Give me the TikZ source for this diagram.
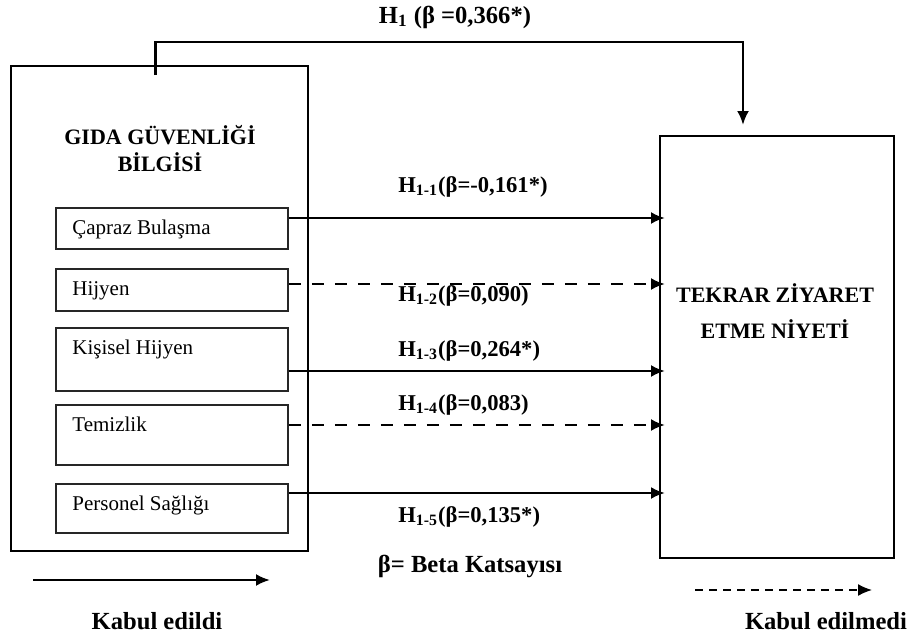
\documentclass[tikz,border=0pt]{standalone}
\usepackage{fontspec}
\setmainfont{Liberation Serif}
\usetikzlibrary{arrows.meta,positioning,calc}
\tikzset{
  outerbox/.style={rectangle,draw=black,line width=0.75pt,inner sep=0pt,anchor=north west},
  itembox/.style={rectangle,draw=black!85,line width=0.9pt,inner sep=0pt,
    minimum width=116pt,anchor=north west},
  itemtext/.style={anchor=base west,inner sep=0pt,font=\fontsize{10.5}{12}\selectfont},
  titletext/.style={align=center,inner sep=0pt,font=\fontsize{11}{13.5}\selectfont\bfseries},
  hlabel/.style={anchor=west,inner sep=0pt,font=\fontsize{11.3}{13}\selectfont\bfseries},
  notetext/.style={anchor=center,inner sep=0pt,font=\fontsize{12.3}{14}\selectfont\bfseries},
  accarrow/.style={-{Latex[length=7pt,width=6pt]},line width=1.3pt},
  rejarrow/.style={accarrow,dash pattern=on 6pt off 5.5pt}
}
\begin{document}
\begin{tikzpicture}[x=0.5pt,y=-0.5pt]
  \path[use as bounding box,fill=white] (0,0) rectangle (916,637);
  \node[outerbox,minimum width=148.5pt,minimum height=242.5pt] (gkb) at (10,65) {};
  \node[outerbox,minimum width=117pt,minimum height=211pt] (tzn) at (659,135) {};
  \node[titletext] (gkbt) at (160,149) {GIDA GÜVENLİĞİ\\BİLGİSİ};
  \node[titletext,font=\fontsize{11}{18}\selectfont\bfseries] (tznt) at (775,311) {TEKRAR ZİYARET\\ETME NİYETİ};
  \foreach \n/\y/\h/\t in {cb/207/20.5/Çapraz Bulaşma,hj/268/21/Hijyen,kh/327/31.5/Kişisel Hijyen,
      tm/404/30/Temizlik,ps/483/24.5/Personel Sağlığı} {
    \node[itembox,minimum height=\h pt] (\n) at (55,\y) {};
    \node[itemtext] (\n t) at ([xshift=8.5pt,yshift=-13.5pt]\n.north west) {\t};
  }
  \foreach \n/\y/\s in {cb/218/accarrow,hj/284/rejarrow,kh/371/accarrow,tm/425/rejarrow,ps/493/accarrow}
    \draw[\s,shorten >=-3pt] (\n.east |- 0,\y) -- (tzn.west |- 0,\y);
  \draw[accarrow] ($(gkb.north)+(-3.5,10)$) coordinate (h1s) -- (h1s |- 0,42) -| ($(tzn.north west)+(84,-10)$);
  \node[notetext] (h1) at (455,17) {H\textsubscript{1} (β =0,366*)};
  \node[hlabel] (h11) at (398,187) {H\textsubscript{1-1}(β=-0,161*)};
  \node[hlabel] (h12) at (398,296) {H\textsubscript{1-2}(β=0,090)};
  \node[hlabel] (h13) at (398,351) {H\textsubscript{1-3}(β=0,264*)};
  \node[hlabel] (h14) at (398,405) {H\textsubscript{1-4}(β=0,083)};
  \node[hlabel] (h15) at (398,517) {H\textsubscript{1-5}(β=0,135*)};
  \node[notetext] (beta) at (470,566) {β= Beta Katsayısı};
  \node[notetext] (ke) at (157,621) {Kabul edildi};
  \node[notetext] (kem) at (826,621) {Kabul edilmedi};
  \coordinate (l1a) at (33,580);
  \coordinate (l1b) at (270,580);
  \coordinate (l2a) at (695,590);
  \coordinate (l2b) at (872,590);
  \draw[accarrow,line width=1.2pt] (l1a) -- (l1b);
  \draw[accarrow,line width=0.8pt,dash pattern=on 4pt off 3pt] (l2a) -- (l2b);
\end{tikzpicture}
\end{document}
